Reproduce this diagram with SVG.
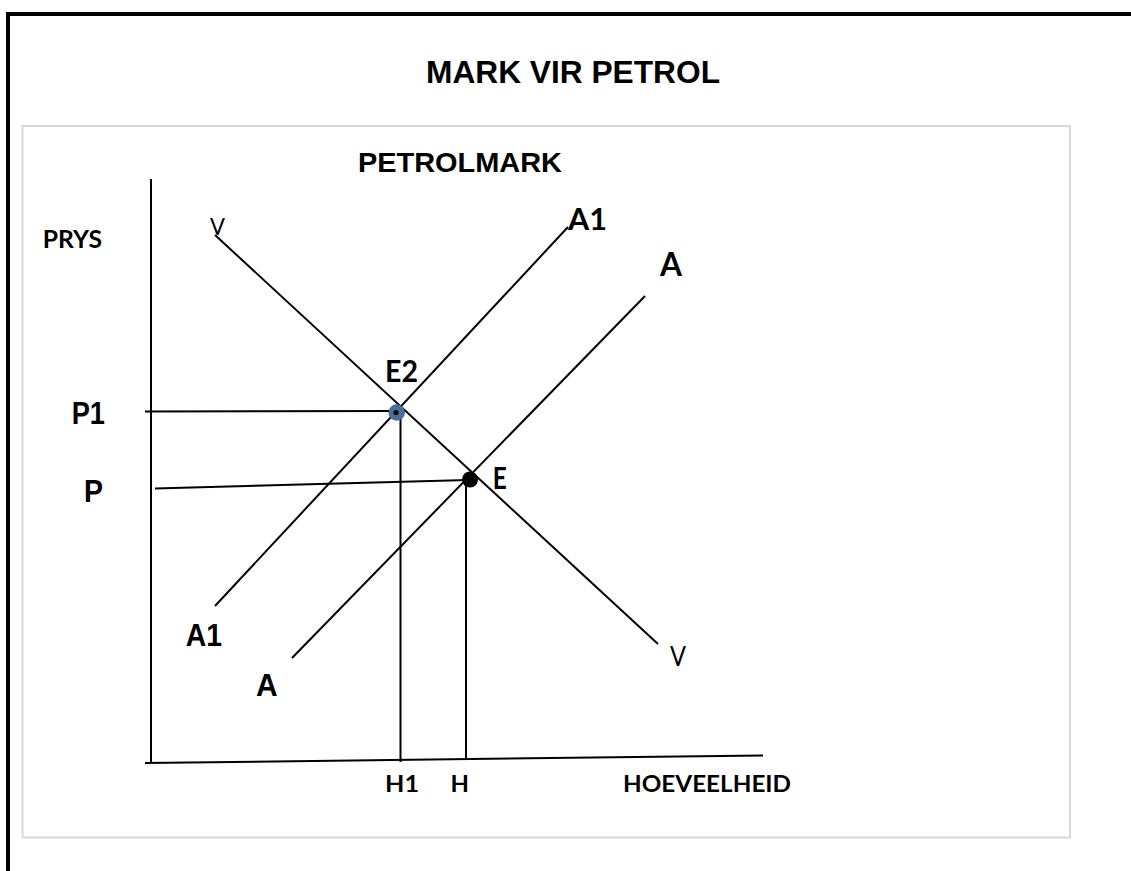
<svg xmlns="http://www.w3.org/2000/svg" width="1131" height="871" viewBox="0 0 1131 871">
<style>
.ln{stroke:#000;stroke-width:2;fill:none;stroke-linecap:butt}
.ar{font-family:"Liberation Sans",Arial,sans-serif;font-weight:bold;fill:#000}
.cb{font-family:Lato,"Open Sans",sans-serif;font-weight:bold;fill:#000}
.rg{font-family:Lato,"Open Sans",sans-serif;font-weight:normal;fill:#000}
</style>
<rect width="1131" height="871" fill="#fff"/>
<path d="M8,871 V12 M6,14 H1131" stroke="#000" stroke-width="4" fill="none"/>
<rect x="22.5" y="126" width="1047.5" height="711.5" fill="none" stroke="#d9d9d9" stroke-width="2"/>
<g id="titles">
<text class="ar" x="426" y="83" font-size="32" textLength="294" lengthAdjust="spacingAndGlyphs">MARK VIR PETROL</text>
<text class="ar" x="358" y="172" font-size="28.5" textLength="204" lengthAdjust="spacingAndGlyphs">PETROLMARK</text>
</g>
<g id="axes">
<line class="ln" x1="151" y1="179" x2="151" y2="763"/>
<line class="ln" x1="145" y1="763" x2="763" y2="755.5"/>
<text class="cb" x="42.7" y="247.7" font-size="24.7" textLength="59.3" lengthAdjust="spacingAndGlyphs">PRYS</text>
<text class="cb" x="623" y="792" font-size="23.7" textLength="168" lengthAdjust="spacingAndGlyphs">HOEVEELHEID</text>
</g>
<g id="connectors">
<line class="ln" x1="145" y1="411.5" x2="397" y2="411"/>
<line class="ln" x1="155" y1="488.5" x2="468" y2="480"/>
<line class="ln" x1="400.5" y1="412" x2="400.5" y2="762"/>
<line class="ln" x1="466" y1="480" x2="466" y2="758"/>
</g>
<g id="curve-V">
<line class="ln" x1="215" y1="235" x2="658" y2="644"/>
<text class="rg" x="210" y="235" font-size="23" textLength="15" lengthAdjust="spacingAndGlyphs">V</text>
<text class="rg" x="670" y="665.7" font-size="26" textLength="16" lengthAdjust="spacingAndGlyphs">V</text>
</g>
<g id="curve-A1">
<line class="ln" x1="215" y1="606" x2="568" y2="227"/>
<text class="cb" x="568" y="230" font-size="30.7" textLength="39" lengthAdjust="spacingAndGlyphs">A1</text>
<text class="ar" x="185.7" y="646" font-size="31" textLength="36.3" lengthAdjust="spacingAndGlyphs">A1</text>
</g>
<g id="curve-A">
<line class="ln" x1="292" y1="658" x2="645" y2="296"/>
<text class="cb" x="660" y="275.7" font-size="31.5" textLength="22" lengthAdjust="spacingAndGlyphs">A</text>
<text class="ar" x="256" y="696" font-size="31" textLength="21.7" lengthAdjust="spacingAndGlyphs">A</text>
</g>
<g id="price-labels">
<text class="ar" x="71.7" y="424" font-size="31" textLength="33.3" lengthAdjust="spacingAndGlyphs">P1</text>
<text class="ar" x="84" y="502" font-size="30.7" textLength="19" lengthAdjust="spacingAndGlyphs">P</text>
</g>
<g id="qty-labels">
<text class="cb" x="385" y="792" font-size="23.7" textLength="34" lengthAdjust="spacingAndGlyphs">H1</text>
<text class="cb" x="450.5" y="792" font-size="23.7" textLength="18.5" lengthAdjust="spacingAndGlyphs">H</text>
</g>
<g id="point-E2">
<circle cx="396.7" cy="412.5" r="8.3" fill="#4a6d9c"/>
<circle cx="396" cy="412.5" r="2.6" fill="#000"/>
<text class="cb" x="385" y="381.7" font-size="30.3" textLength="33" lengthAdjust="spacingAndGlyphs">E2</text>
</g>
<g id="point-E">
<circle cx="470" cy="479.5" r="8" fill="#000"/>
<text class="cb" x="492.7" y="489" font-size="30.7" textLength="14" lengthAdjust="spacingAndGlyphs">E</text>
</g>
</svg>
